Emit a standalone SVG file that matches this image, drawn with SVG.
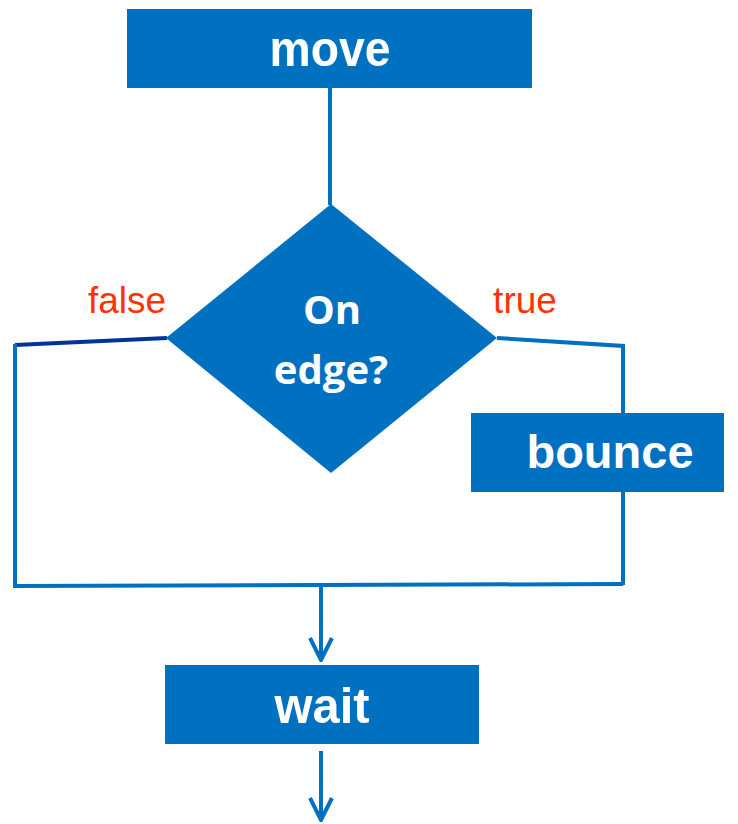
<svg xmlns="http://www.w3.org/2000/svg" width="738" height="824" viewBox="0 0 738 824">
  <style>
    .box { fill: #0070C0; }
    .lbl { font-family: "Liberation Sans", Arial, sans-serif; font-weight: bold; font-size: 50px; fill: #ffffff; text-anchor: middle; }
    .q { font-family: "Open Sans", "Noto Sans", sans-serif; font-weight: bold; font-size: 40px; fill: #ffffff; text-anchor: middle; }
    .br { font-family: "Liberation Sans", Arial, sans-serif; font-size: 37px; fill: #FF3300; text-anchor: middle; }
    .ln { fill: none; stroke: #0070C0; stroke-width: 4; }
    .navy { fill: none; stroke: #003399; stroke-width: 4; }
  </style>
  <defs>
    <!-- open V head, drawn pointing along +x so orient="auto" follows the line -->
    <marker id="arrow" viewBox="0 0 26 26" refX="24" refY="13" markerWidth="26" markerHeight="26" markerUnits="userSpaceOnUse" orient="auto">
      <path d="M2 2 L24 13 L2 24" fill="none" stroke="#0070C0" stroke-width="4" stroke-linejoin="miter"/>
    </marker>
  </defs>

  <g id="connectors">
    <line class="ln" x1="330" y1="88" x2="330" y2="205"/>
    <polyline class="navy" points="167,338 15,345"/>
    <polyline class="ln" points="15,344 15,586 623,584"/>
    <polyline class="ln" points="497,338 623,346 623,414"/>
    <line class="ln" x1="623" y1="491" x2="623" y2="585"/>
    <path class="ln" d="M321 585 L321 660" marker-end="url(#arrow)"/>
    <path class="ln" d="M321 751 L321 820" marker-end="url(#arrow)"/>
    <text class="br" x="127" y="313">false</text>
    <text class="br" x="525" y="313">true</text>
  </g>

  <g id="move">
    <rect class="box" x="127" y="9" width="405" height="79"/>
    <text class="lbl" x="330" y="66" textLength="121" lengthAdjust="spacingAndGlyphs">move</text>
  </g>

  <g id="on-edge">
    <polygon class="box" points="331,204 497,338 331,473 166,338"/>
    <text class="q" x="332" y="324">On</text>
    <text class="q" x="331" y="384">edge?</text>
  </g>

  <g id="bounce">
    <rect class="box" x="471" y="413" width="253" height="79"/>
    <text class="lbl" x="610" y="468" style="font-size:47px">bounce</text>
  </g>

  <g id="wait">
    <rect class="box" x="165" y="665" width="314" height="79"/>
    <text class="lbl" x="322" y="723" textLength="95" lengthAdjust="spacingAndGlyphs">wait</text>
  </g>
</svg>
